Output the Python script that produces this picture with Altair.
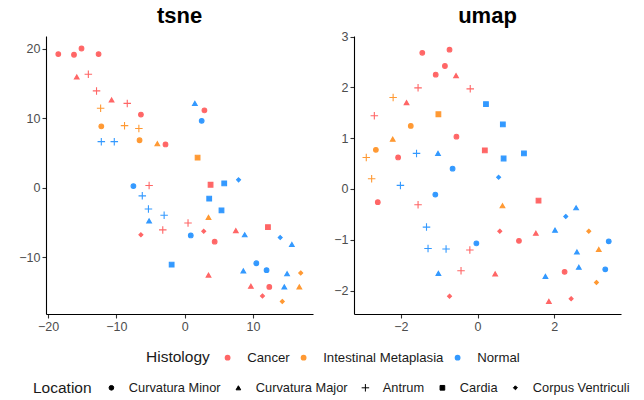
import altair as alt
import pandas as pd

# Sample annotations (one entry per sample)
histology = (["Cancer"] * 25 + ["Intestinal Metaplasia"] * 11 + ["Normal"] * 23)
location = (
    ["Curvatura Minor"] * 9 + ["Curvatura Major"] * 5 + ["Antrum"] * 6 + ["Cardia"] * 2 + ["Corpus Ventriculi"] * 3
    + ["Curvatura Minor"] * 2 + ["Curvatura Major"] * 3 + ["Antrum"] * 3 + ["Cardia"] * 1 + ["Corpus Ventriculi"] * 2
    + ["Curvatura Minor"] * 5 + ["Curvatura Major"] * 7 + ["Antrum"] * 5 + ["Cardia"] * 4 + ["Corpus Ventriculi"] * 2
)

# t-SNE embedding
tsne_x = [-18.5, -16.2, -15.1, -12.6, -6.4, -2.8, 2.9, 4.4, 12.4,
          -15.8, -10.7, 7.5, 3.5, 9.7,
          -14.1, -12.9, -8.4, -5.2, -3.2, 0.5,
          3.8, 12.2,
          -6.4, 2.8, 11.4,
          -12.2, -6.6,
          -4.0, 3.5, 16.8,
          -12.3, -8.8, -6.7,
          1.9,
          17.0, 14.3,
          2.5, -7.5, 0.9, 10.5, 12.0,
          1.5, -5.2, 8.8, 15.7, 8.6, 15.0, 14.6,
          -12.2, -10.3, -6.2, -5.3, -3.0,
          -1.9, 5.8, 3.6, 5.4,
          7.9, 14.0]
tsne_y = [19.2, 19.1, 20.0, 19.2, 10.5, 6.2, 11.1, -7.8, -14.3,
          15.9, 12.6, -6.2, -12.6, -14.2,
          16.3, 13.9, 12.1, 0.3, -6.1, -5.1,
          0.4, -5.7,
          -6.8, -6.3, -15.6,
          8.8, 6.8,
          6.3, -4.3, -14.3,
          11.4, 8.9, 8.5,
          4.3,
          -12.3, -16.4,
          9.6, 0.2, -6.9, -10.9, -11.9,
          12.1, -4.8, -6.8, -8.2, -12.0, -12.4, -14.3,
          6.6, 6.6, -1.2, -3.1, -4.0,
          -11.1, 0.6, -1.6, -3.3,
          1.1, -7.2]

# UMAP embedding
umap_x = [-1.44, -0.73, -0.85, -1.09, -0.55, -2.07, -2.60, 1.08, 2.27,
          -0.56, -1.85, 1.52, 0.46, 1.86,
          -1.55, -0.19, -2.69, -1.55, -0.20, -0.43,
          0.19, 1.59,
          -0.73, 0.58, 2.44,
          -1.74, -2.65,
          -2.21, 0.65, 3.16,
          -2.20, -2.90, -2.76,
          -1.02,
          2.90, 3.10,
          -0.65, -1.10, -0.03, 3.42, 3.33,
          -1.03, -1.02, 2.57, 2.02, 2.59, 1.77, 2.64,
          -1.59, -2.01, -1.33, -1.29, -0.82,
          0.22, 0.66, 1.21, 0.68,
          0.55, 2.30]
umap_y = [2.68, 2.74, 2.42, 2.25, 1.03, 0.62, -0.26, -1.02, -1.63,
          2.23, 1.70, -0.87, -1.67, -2.21,
          1.99, 1.97, 1.44, -0.31, -1.20, -1.61,
          0.76, -0.23,
          -2.11, -0.83, -2.16,
          1.24, 0.77,
          0.98, -0.33, -1.19,
          1.80, 0.62, 0.20,
          1.47,
          -0.83, -1.84,
          0.40, -0.11, -1.07, -1.03, -1.58,
          0.70, -1.66, -0.37, -0.81, -1.24, -1.72, -1.54,
          0.70, 0.07, -0.75, -1.17, -1.18,
          1.67, 1.27, 0.70, 0.60,
          0.23, -0.54]

hist_levels = ["Cancer", "Intestinal Metaplasia", "Normal"]
hist_colors = ["#FF6666", "#FF9933", "#3399FF"]
loc_levels = ["Curvatura Minor", "Curvatura Major", "Antrum", "Cardia", "Corpus Ventriculi"]
loc_shapes = ["circle", "triangle-up", "M-1.6,0H1.6M0,-1.6V1.6", "square",
              "M0,-0.85L0.85,0L0,0.85L-0.85,0Z"]

df = pd.DataFrame({
    "Histology": histology, "Location": location,
    "tsne_x": tsne_x, "tsne_y": tsne_y,
    "umap_x": umap_x, "umap_y": umap_y,
})

FONT = "Liberation Sans"

color_enc = alt.Color(
    "Histology:N",
    scale=alt.Scale(domain=hist_levels, range=hist_colors),
    legend=alt.Legend(
        orient="none", legendX=100, legendY=315, direction="horizontal",
        titleOrient="left", titleFontSize=15.5, titleFontWeight="normal",
        titleColor="#1a1a1a", titleFont=FONT, titlePadding=11,
        labelFont=FONT, labelFontSize=13.2, labelColor="#1a1a1a",
        symbolType="circle", symbolSize=34, symbolStrokeWidth=0,
        labelOffset=13, columnPadding=7,
    ),
)
stroke_enc = alt.Stroke(
    "Histology:N",
    scale=alt.Scale(domain=hist_levels, range=hist_colors),
    legend=None,
)
shape_enc = alt.Shape(
    "Location:N",
    scale=alt.Scale(domain=loc_levels, range=loc_shapes),
    legend=alt.Legend(
        orient="none", legendX=-13, legendY=345, direction="horizontal",
        titleOrient="left", titleFontSize=15.5, titleFontWeight="normal",
        titleColor="#1a1a1a", titleFont=FONT, titlePadding=13,
        labelFont=FONT, labelFontSize=12.8, labelColor="#1a1a1a",
        symbolFillColor="black", symbolStrokeColor="black",
        symbolStrokeWidth=1, symbolSize=22,
        labelOffset=11, columnPadding=11,
    ),
)


def panel(name, xcol, ycol, xdom, ydom, xticks, yticks, title_dy):
    return (
        alt.Chart(df)
        .mark_point(filled=True, size=22, strokeWidth=1.1, opacity=1)
        .encode(
            x=alt.X(f"{xcol}:Q", scale=alt.Scale(domain=xdom, nice=False, zero=False),
                    axis=alt.Axis(values=xticks, title=None)),
            y=alt.Y(f"{ycol}:Q", scale=alt.Scale(domain=ydom, nice=False, zero=False),
                    axis=alt.Axis(values=yticks, title=None)),
            color=color_enc,
            stroke=stroke_enc,
            shape=shape_enc,
        )
        .properties(
            width=267, height=278,
            title=alt.TitleParams(name, fontSize=22, fontWeight="bold", font=FONT,
                                  color="black", anchor="middle", offset=7,
                                  dy=title_dy),
        )
    )


tsne = panel("tsne", "tsne_x", "tsne_y", [-20.3, 18.8], [-18.2, 21.8],
             [-20, -10, 0, 10], [-10, 0, 10, 20], -1)
umap = panel("umap", "umap_x", "umap_y", [-3.22, 3.74], [-2.46, 3.01],
             [-2, 0, 2], [-2, -1, 0, 1, 2, 3], 4)

chart = (
    alt.hconcat(tsne, umap, spacing=20)
    .properties(padding={"left": 18, "top": 4, "right": 5, "bottom": 0})
    .configure_view(stroke=None)
    .configure_axis(
        grid=False, domainColor="black", domainWidth=1.1,
        tickColor="#333333", tickWidth=1.1, tickSize=4,
        labelColor="#4d4d4d", labelFontSize=12.5, labelFont=FONT, labelPadding=2,
    )
)

chart.save("out.html", embed_options={"renderer": "svg", "actions": False})
